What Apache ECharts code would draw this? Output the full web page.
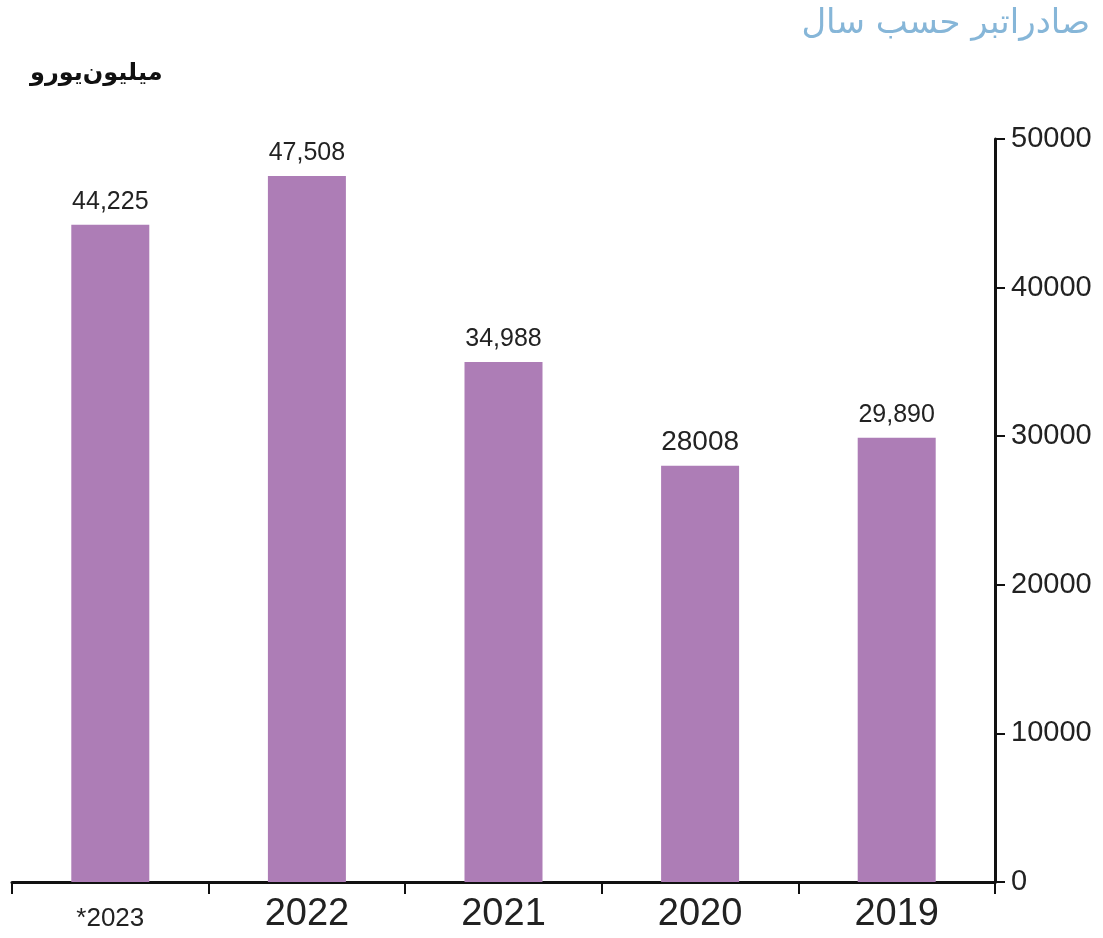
<!DOCTYPE html>
<html><head><meta charset="utf-8">
<script src="https://cdn.jsdelivr.net/npm/echarts@6/dist/echarts.min.js"></script>
<style>html,body{margin:0;padding:0;background:#fff}#c{width:1103px;height:938px}</style>
</head><body><div id="c"></div>
<script>
const categories = ['*2023', '2022', '2021', '2020', '2019'];
const values = [44225, 47508, 34988, 28008, 29890];
const valueLabels = ['44,225', '47,508', '34,988', '28008', '29,890'];
const yTicks = [0, 10000, 20000, 30000, 40000, 50000];
const titleText = 'صادراتبر حسب سال';
const unitText = 'میلیون‌یورو';

const chart = echarts.init(document.getElementById('c'));
const num = 'Liberation Sans, Arial, sans-serif';
chart.setOption({
  animation: false,
  title: {
    text: titleText, right: 8, top: 2,
    textStyle: {color: '#86b6d8', fontSize: 34, fontWeight: 'normal', fontFamily: 'DejaVu Sans'}
  },
  graphic: [{
    type: 'text', left: 30, top: 62,
    style: {text: unitText, fill: '#111', fontSize: 24, fontWeight: 'bold', fontFamily: 'DejaVu Sans'}
  }],
  grid: {left: 12, right: 108, top: 139, bottom: 56, containLabel: false},
  xAxis: {
    type: 'category', data: categories,
    axisLine: {lineStyle: {color: '#111', width: 3}},
    axisTick: {show: true, interval: 0, length: 12, lineStyle: {color: '#111', width: 2}},
    axisLabel: {
      interval: 0, margin: 14, color: '#222', fontFamily: num, fontSize: 38,
      formatter: function (v) { return v === '*2023' ? '{s|' + v + '}' : v; },
      rich: {s: {fontSize: 26, fontFamily: num, color: '#222', padding: [10, 0, 0, 0]}}
    }
  },
  yAxis: {
    type: 'value', position: 'right', min: 0, max: 50000, interval: 10000,
    splitLine: {show: false},
    axisLine: {show: true, lineStyle: {color: '#111', width: 3}},
    axisTick: {show: true, inside: false, length: 10, lineStyle: {color: '#111', width: 2}},
    axisLabel: {
      margin: 16, color: '#222', fontFamily: num, fontSize: 29,
      formatter: function (v) { return yTicks.indexOf(v) >= 0 ? String(v) : ''; }
    }
  },
  series: [{
    type: 'bar', barWidth: 78,
    itemStyle: {color: '#ad7db6'},
    data: values.map(function (v, i) {
      return {
        value: v,
        label: {
          show: true, position: 'top', distance: 10,
          formatter: valueLabels[i], color: '#222', fontFamily: num,
          fontSize: i === 3 ? 28 : 25
        }
      };
    })
  }]
});
</script></body></html>
